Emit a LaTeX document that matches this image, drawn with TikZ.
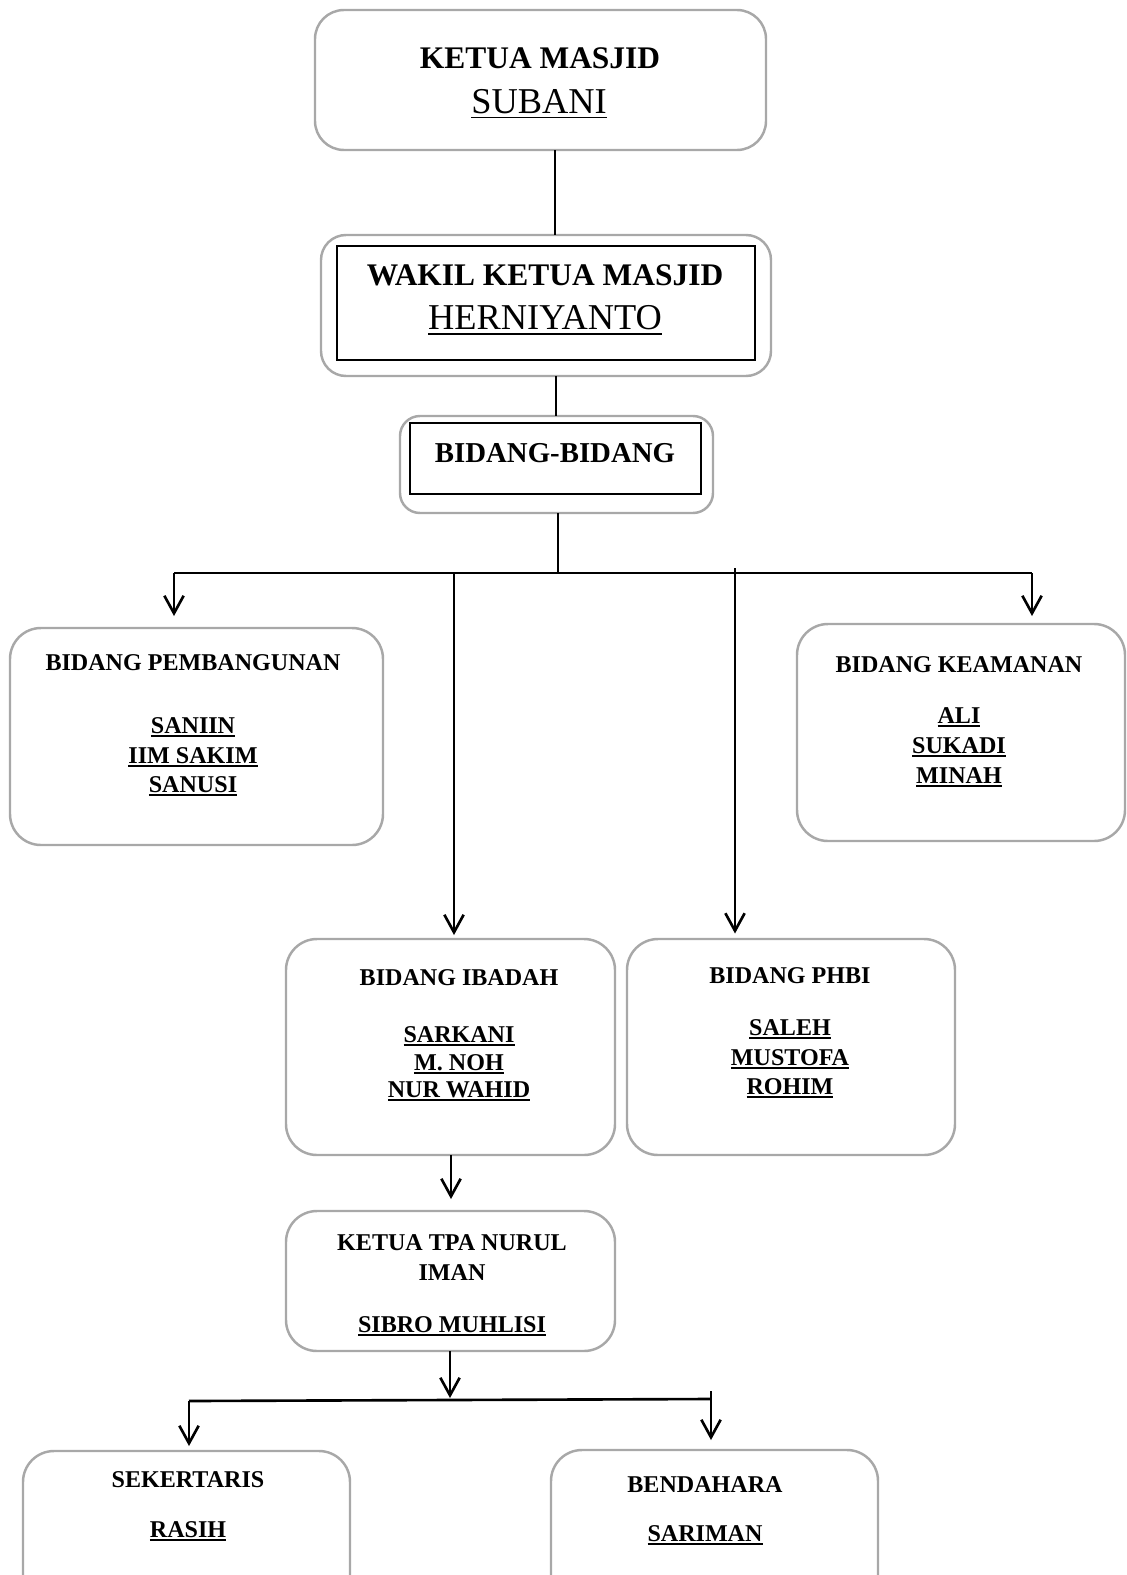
\documentclass[tikz,border=0pt]{standalone}
\usepackage{fontspec}
\setmainfont{Liberation Serif}
\usetikzlibrary{arrows.meta}
\definecolor{boxgray}{HTML}{A8A8A8}
\newcommand\myuline[3]{\setbox0\hbox{#1}\rlap{\rule[#2]{\wd0}{#3}}\box0}
\newcommand\nameul[1]{\myuline{#1}{-2.4pt}{1.5pt}}
\newcommand\bigul[1]{\myuline{#1}{-2.9pt}{0.8pt}}
\newcommand\fTop{\fontsize{17.9pt}{20pt}\selectfont\bfseries}
\newcommand\fBig{\fontsize{20.7pt}{24pt}\selectfont}
\newcommand\fMid{\fontsize{16.4pt}{19pt}\selectfont\bfseries}
\newcommand\fLow{\fontsize{13.7pt}{16pt}\selectfont\bfseries}
\tikzset{
  bx/.style 2 args={minimum width=#1*0.02cm, minimum height=#2*0.02cm},
  rbox/.style={draw=boxgray, line width=1.4pt, inner sep=0pt, outer sep=0pt},
  lbox/.style={rbox, rounded corners=0.62cm},
  ibox/.style={draw=black, line width=0.7pt, inner sep=0pt},
  conn/.style={draw=black, line width=1.5pt},
  arr/.style={conn, -{Straight Barb[length=10pt,width=11pt]}},
  txt/.style={anchor=base, inner sep=0pt},
  low/.style={txt, font=\fLow}
}
\begin{document}
\begin{tikzpicture}[x=0.02cm, y=-0.02cm]
\useasboundingbox (0,0) rectangle (1126,1575);
\clip (0,0) rectangle (1126,1575);

% ---------- top boxes ----------
\node[rbox, rounded corners=0.58cm, bx={451}{140}] (ketua) at (540.5,80) {};
\node[txt, font=\fTop] (t1a) at (540,68.5) {KETUA MASJID};
\node[txt, font=\fBig] (t1b) at (539,113) {\bigul{SUBANI}};

\node[rbox, rounded corners=0.5cm, bx={450}{141}] (wakil) at (546,305.5) {};
\node[ibox, bx={418}{114}] (wakilin) at (546,303) {};
\node[txt, font=\fTop] (t2a) at (545,285) {WAKIL KETUA MASJID};
\node[txt, font=\fBig] (t2b) at (545,329.5) {\bigul{HERNIYANTO}};

\node[rbox, rounded corners=0.4cm, bx={313}{97}] (bidang) at (556.5,464.5) {};
\node[ibox, bx={291}{71}] (bidangin) at (555.5,458.5) {};
\node[txt, font=\fMid] (t3) at (555,462) {BIDANG-BIDANG};

% ---------- divisions ----------
\node[lbox, bx={373}{217}] (pemb) at (196.5,736.5) {};
\node[low] (p0) at (193,670) {BIDANG PEMBANGUNAN};
\node[low] (p1) at (193,733) {\nameul{SANIIN}};
\node[low] (p2) at (193,763) {\nameul{IIM SAKIM}};
\node[low] (p3) at (193,792) {\nameul{SANUSI}};

\node[lbox, bx={328}{217}] (keam) at (961,732.5) {};
\node[low] (k0) at (959,672) {BIDANG KEAMANAN};
\node[low] (k1) at (959,723) {\nameul{ALI}};
\node[low] (k2) at (959,753) {\nameul{SUKADI}};
\node[low] (k3) at (959,783) {\nameul{MINAH}};

\node[lbox, bx={329}{216}] (ibadah) at (450.5,1047) {};
\node[low] (i0) at (459,985) {BIDANG IBADAH};
\node[low] (i1) at (459,1042) {\nameul{SARKANI}};
\node[low] (i2) at (459,1070) {\nameul{M. NOH}};
\node[low] (i3) at (459,1097) {\nameul{NUR WAHID}};

\node[lbox, bx={328}{216}] (phbi) at (791,1047) {};
\node[low] (h0) at (790,983) {BIDANG PHBI};
\node[low] (h1) at (790,1035) {\nameul{SALEH}};
\node[low] (h2) at (790,1065) {\nameul{MUSTOFA}};
\node[low] (h3) at (790,1094) {\nameul{ROHIM}};

\node[lbox, bx={329}{140}] (tpa) at (450.5,1281) {};
\node[low] (a0) at (452,1250) {KETUA TPA NURUL};
\node[low] (a1) at (452,1280) {IMAN};
\node[low] (a2) at (452,1332) {\nameul{SIBRO MUHLISI}};

\node[lbox, bx={327}{212}] (sek) at (186.5,1557) {};
\node[low] (s0) at (188,1487) {SEKERTARIS};
\node[low] (s1) at (188,1537) {\nameul{RASIH}};

\node[lbox, bx={327}{212}] (bend) at (714.5,1556) {};
\node[low] (b0) at (705,1492) {BENDAHARA};
\node[low] (b1) at (705,1541) {\nameul{SARIMAN}};

% ---------- connectors ----------
\coordinate (x1) at (555,0);
\coordinate (x2) at (556,0);
\coordinate (x3) at (558,0);
\coordinate (hL) at (174,573);
\coordinate (hR) at (1032,573);
\coordinate (vI) at (454,573);
\coordinate (vP) at (735,568);
\coordinate (x4) at (451,0);
\coordinate (x5) at (450,0);
\coordinate (gL) at (189,1401);
\coordinate (gR) at (711,1399);
\coordinate (gRt) at (711,1391);

\draw[conn] (ketua.south -| x1) -- (wakil.north -| x1);
\draw[conn] (wakil.south -| x2) -- (bidang.north -| x2);
\draw[conn] (bidang.south -| x3) -- (x3 |- hL);
\draw[conn] (hL) -- (hR);
\draw[arr, shorten >=0.24cm] (hL) -- (pemb.north -| hL);
\draw[arr, shorten >=0.16cm] (hR) -- (keam.north -| hR);
\draw[arr, shorten >=0.08cm] (vI) -- (ibadah.north -| vI);
\draw[arr, shorten >=0.11cm] (vP) -- (phbi.north -| vP);
\draw[arr, shorten >=0.24cm] (ibadah.south -| x4) -- (tpa.north -| x4);
\draw[arr, shorten >=0.06cm] (tpa.south -| x5) -- (x5 |- gL);
\draw[conn] (gL) -- (gR);
\draw[arr, shorten >=0.1cm] (gL) -- (sek.north -| gL);
\draw[arr, shorten >=0.2cm] (gRt) -- (bend.north -| gRt);
\end{tikzpicture}
\end{document}
